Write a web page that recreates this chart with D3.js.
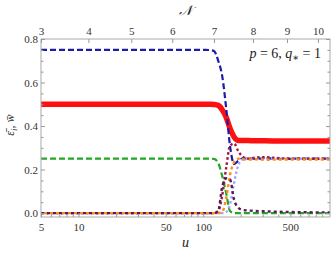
<!DOCTYPE html>
<html>
<head>
<meta charset="utf-8">
<script src="https://cdn.jsdelivr.net/npm/d3@7"></script>
<style>
  body { margin: 0; background: #fff; }
  text { font-family: "Liberation Serif", "DejaVu Serif", serif; }
</style>
</head>
<body>
<div id="chart"></div>
<script>
const width = 332,
      height = 258,
      margin = {top: 39, right: 2, bottom: 41, left: 41};

// u grid (log axis) shared by every curve
const uGrid = [5, 15, 38, 95, 104, 114, 122, 132, 142, 153, 164, 177, 191, 205, 229, 260, 313, 413, 596, 1040];

const blueVals      = [0.75, 0.75, 0.75, 0.75, 0.75, 0.749, 0.745, 0.70, 0.63, 0.48, 0.31, 0.225, 0.24, 0.25, 0.251, 0.249, 0.252, 0.249, 0.25, 0.25];
const redVals       = [0.5, 0.5, 0.5, 0.5, 0.5, 0.5, 0.499, 0.495, 0.475, 0.44, 0.39, 0.35, 0.334, 0.333, 0.333, 0.332, 0.332, 0.331, 0.331, 0.331];
const greenVals     = [0.25, 0.25, 0.25, 0.25, 0.25, 0.25, 0.249, 0.23, 0.17, 0.09, 0.01, 0, 0, 0, 0, 0, 0, 0, 0, 0];
const darkRedVals   = [0, 0, 0, 0, 0, 0, 0, 0.01, 0.08, 0.21, 0.31, 0.32, 0.285, 0.262, 0.25, 0.255, 0.257, 0.252, 0.25, 0.25];
const purpleVals    = [0, 0, 0, 0, 0, 0, 0, 0.01, 0.12, 0.16, 0.155, 0.06, 0.025, 0.015, 0.012, 0.01, 0.008, 0.006, 0.004, 0.003];
const orangeVals    = [0, 0, 0, 0, 0, 0, 0, 0, 0.005, 0.07, 0.175, 0.235, 0.25, 0.248, 0.246, 0.247, 0.245, 0.246, 0.246, 0.246];
const lightBlueVals = [0, 0, 0, 0, 0, 0, 0, 0, 0, 0.005, 0.04, 0.14, 0.22, 0.245, 0.252, 0.248, 0.252, 0.249, 0.25, 0.25];

// top axis: N values and the u where each one sits
const topTickN = [3, 4, 5, 6, 7, 8, 9, 10];
const topTickU = [5, 12, 26.5, 56.5, 122, 251, 470, 832];

const bottomTicks = [5, 10, 50, 100, 500];
const leftTicks = [0, 0.2, 0.4, 0.6, 0.8];

const series = [
  {vals: greenVals, color: "#22a822", width: 2.2, dash: "6,3"},
  {vals: blueVals, color: "#1c1ca8", width: 2.2, dash: "6,3"},
  {vals: lightBlueVals, color: "#9aa8ff", width: 2.4, dash: "2.5,2.5"},
  {vals: darkRedVals, color: "#9c1c40", width: 2.4, dash: "2.5,2.5"},
  {vals: orangeVals, color: "#ff8c1a", width: 2.4, dash: "3,3", offset: 3},
  {vals: purpleVals, color: "#5c1a5c", width: 2.4, dash: "3,3"}
];

const x = d3.scaleLog()
  .domain([5, 1040])
  .range([margin.left, width - margin.right]);

const y = d3.scaleLinear()
  .domain([-0.018, 0.8])
  .range([height - margin.bottom, margin.top]);

const svg = d3.select("#chart")
  .append("svg")
  .attr("width", width)
  .attr("height", height);

const line = d3.line()
  .x((d) => x(d[0]))
  .y((d) => y(d[1]))
  .curve(d3.curveMonotoneX);

const clip = svg.append("defs").append("clipPath").attr("id", "plot-clip")
  .append("rect")
  .attr("x", margin.left)
  .attr("y", margin.top)
  .attr("width", width - margin.left - margin.right)
  .attr("height", height - margin.top - margin.bottom);

const plot = svg.append("g").attr("clip-path", "url(#plot-clip)");

// thick red curve first
plot.append("path")
  .datum(uGrid.map((u, i) => [u, redVals[i]]))
  .attr("d", line)
  .attr("fill", "none")
  .attr("stroke", "#ff1010")
  .attr("stroke-width", 5.5);

series.forEach((s) => {
  plot.append("path")
    .datum(uGrid.map((u, i) => [u, s.vals[i]]))
    .attr("d", line)
    .attr("fill", "none")
    .attr("stroke", s.color)
    .attr("stroke-width", s.width)
    .attr("stroke-dasharray", s.dash)
    .attr("stroke-dashoffset", s.offset || 0);
});

// frame
svg.append("rect")
  .attr("x", margin.left)
  .attr("y", margin.top)
  .attr("width", width - margin.left - margin.right)
  .attr("height", height - margin.top - margin.bottom)
  .attr("fill", "none")
  .attr("stroke", "#aaa")
  .attr("stroke-width", 1);

//Axes
function style(g) {
  g.select(".domain").remove();
  g.selectAll("line").attr("stroke", "#999");
  g.selectAll("text")
    .attr("fill", "#333")
    .style("font-size", "11px")
    .style("font-family", "'Liberation Serif', serif");
}

const minorU = [];
[1, 10, 100].forEach((p) => {
  for (let k = 1; k < 10; k++) {
    const v = k * p;
    if (v >= 5 && v <= 1040 && !bottomTicks.includes(v)) minorU.push(v);
  }
});

svg.append("g")
  .attr("transform", `translate(0, ${height - margin.bottom})`)
  .call(d3.axisBottom(x).tickValues(minorU).tickFormat("").tickSize(-2.5))
  .call(style);

svg.append("g")
  .attr("transform", `translate(0, ${height - margin.bottom})`)
  .call(d3.axisBottom(x).tickValues(bottomTicks).tickFormat(d3.format("d")).tickSize(-4).tickPadding(6))
  .call(style);

svg.append("g")
  .attr("transform", `translate(0, ${margin.top})`)
  .call(d3.axisTop(x).tickValues(topTickU).tickFormat((d, i) => topTickN[i]).tickSize(-4).tickPadding(4))
  .call(style);

const minorY = d3.range(0, 0.801, 0.05).filter((v) => Math.round(v * 100) % 20 !== 0);

svg.append("g")
  .attr("transform", `translate(${margin.left}, 0)`)
  .call(d3.axisLeft(y).tickValues(minorY).tickFormat("").tickSize(-2.5))
  .call(style);

svg.append("g")
  .attr("transform", `translate(${margin.left}, 0)`)
  .call(d3.axisLeft(y).tickValues(leftTicks).tickFormat(d3.format(".1f")).tickSize(-4).tickPadding(3))
  .call(style);

svg.append("g")
  .attr("transform", `translate(${width - margin.right}, 0)`)
  .call(d3.axisRight(y).tickValues(minorY).tickFormat("").tickSize(-2.5))
  .call(style);

svg.append("g")
  .attr("transform", `translate(${width - margin.right}, 0)`)
  .call(d3.axisRight(y).tickValues(leftTicks).tickFormat("").tickSize(-4))
  .call(style);

//Labels
svg.append("text")
  .attr("x", (margin.left + width - margin.right) / 2)
  .attr("y", 247)
  .attr("text-anchor", "middle")
  .style("font-size", "14px")
  .style("font-style", "italic")
  .attr("fill", "#222")
  .text("u");

svg.append("text")
  .attr("x", (margin.left + width - margin.right) / 2)
  .attr("y", 15)
  .attr("text-anchor", "middle")
  .style("font-size", "14px")
  .style("font-style", "italic")
  .attr("fill", "#222")
  .text("\u{1D4A9}");

const yLabel = svg.append("text")
  .attr("transform", "translate(14, 125) rotate(-90)")
  .attr("text-anchor", "middle")
  .style("font-size", "12px")
  .attr("fill", "#222");
yLabel.append("tspan").style("font-style", "italic").text("\u03B5\u0304");
yLabel.append("tspan").style("font-style", "italic").style("font-size", "9px").attr("dy", 3).text("i");
yLabel.append("tspan").attr("dy", -3).text(", ");
yLabel.append("tspan").style("font-style", "italic").text("w\u0304");

const note = svg.append("text")
  .attr("x", 321)
  .attr("y", 58)
  .attr("text-anchor", "end")
  .style("font-size", "14px")
  .attr("fill", "#222");
note.append("tspan").style("font-style", "italic").text("p");
note.append("tspan").text(" = 6, ");
note.append("tspan").style("font-style", "italic").text("q");
note.append("tspan").style("font-size", "10px").attr("dy", 3).text("\u2217");
note.append("tspan").attr("dy", -3).text(" = 1");
</script>
</body>
</html>
